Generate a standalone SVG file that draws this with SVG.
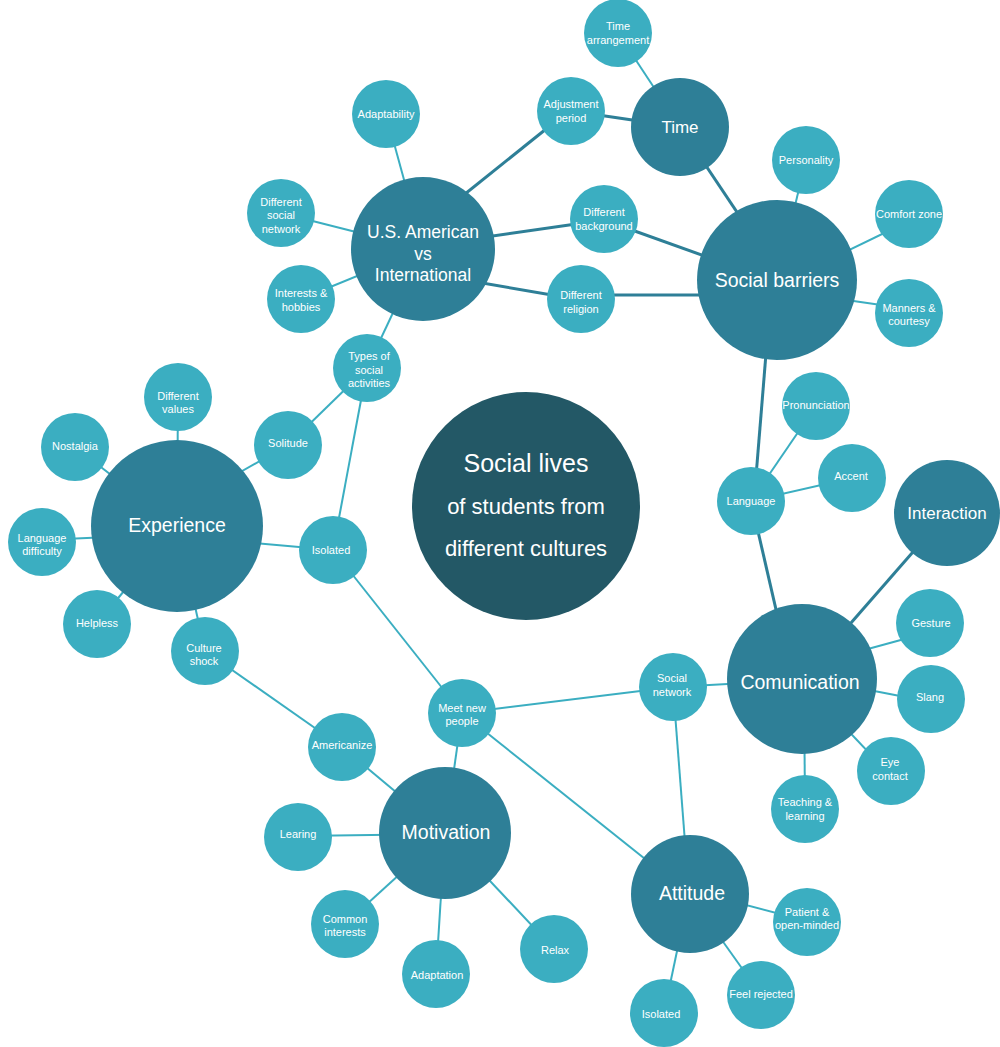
<svg xmlns="http://www.w3.org/2000/svg" width="1000" height="1047" viewBox="0 0 1000 1047">
<style>
.bg{fill:#ffffff}
.thin{stroke:#3BAEC1;stroke-width:2;fill:none}
.thick{stroke:#2E7F97;stroke-width:3;fill:none}
.s{fill:#3BAEC1}
.m{fill:#2E7F97}
.c{fill:#235866}
text{font-family:"Liberation Sans",Arial,Helvetica,sans-serif;fill:#ffffff;text-anchor:middle}
.ts{font-size:11px}
.tm{font-size:19.5px}
.tu{font-size:17.5px}
.tt{font-size:17px}
.c1{font-size:25px}
.c2{font-size:22px}
</style>
<rect class="bg" x="0" y="0" width="1000" height="1047"/>
<g id="connectors">
  <!-- thick -->
  <line class="thick" x1="450" y1="206" x2="571" y2="109"/>
  <line class="thick" x1="571" y1="111" x2="680" y2="127"/>
  <line class="thick" x1="680" y1="127" x2="777" y2="272"/>
  <line class="thick" x1="423" y1="246" x2="604" y2="220"/>
  <line class="thick" x1="604" y1="220" x2="777" y2="282"/>
  <line class="thick" x1="430" y1="274" x2="581" y2="300"/>
  <line class="thick" x1="581" y1="295" x2="740" y2="295"/>
  <line class="thick" x1="772" y1="280" x2="754" y2="501"/>
  <line class="thick" x1="751" y1="501" x2="792" y2="679"/>
  <line class="thick" x1="802" y1="679" x2="947" y2="513"/>
  <!-- thin -->
  <line class="thin" x1="618" y1="33" x2="680" y2="127"/>
  <line class="thin" x1="806" y1="160" x2="777" y2="280"/>
  <line class="thin" x1="777" y1="285" x2="909" y2="221"/>
  <line class="thin" x1="777" y1="290" x2="909" y2="309"/>
  <line class="thin" x1="386" y1="114" x2="423" y2="249"/>
  <line class="thin" x1="281" y1="213" x2="423" y2="249"/>
  <line class="thin" x1="301" y1="299" x2="423" y2="249"/>
  <line class="thin" x1="367" y1="368" x2="423" y2="249"/>
  <line class="thin" x1="288" y1="445" x2="367" y2="368"/>
  <line class="thin" x1="333" y1="550" x2="367" y2="368"/>
  <line class="thin" x1="288" y1="445" x2="200" y2="495"/>
  <line class="thin" x1="178" y1="397" x2="177" y2="526"/>
  <line class="thin" x1="75" y1="447" x2="177" y2="526"/>
  <line class="thin" x1="42" y1="540" x2="177" y2="534"/>
  <line class="thin" x1="97" y1="624" x2="177" y2="526"/>
  <line class="thin" x1="205" y1="651" x2="177" y2="526"/>
  <line class="thin" x1="177" y1="536" x2="333" y2="550"/>
  <line class="thin" x1="333" y1="550" x2="462" y2="713"/>
  <line class="thin" x1="205" y1="651" x2="342" y2="747"/>
  <line class="thin" x1="342" y1="747" x2="445" y2="833"/>
  <line class="thin" x1="462" y1="713" x2="445" y2="833"/>
  <line class="thin" x1="462" y1="713" x2="673" y2="687"/>
  <line class="thin" x1="462" y1="713" x2="689" y2="894"/>
  <line class="thin" x1="673" y1="687" x2="802" y2="680"/>
  <line class="thin" x1="673" y1="687" x2="689" y2="894"/>
  <line class="thin" x1="298" y1="836" x2="445" y2="834"/>
  <line class="thin" x1="345" y1="924" x2="445" y2="833"/>
  <line class="thin" x1="436" y1="974" x2="445" y2="833"/>
  <line class="thin" x1="554" y1="949" x2="445" y2="833"/>
  <line class="thin" x1="689" y1="890" x2="807" y2="921"/>
  <line class="thin" x1="689" y1="894" x2="761" y2="995"/>
  <line class="thin" x1="689" y1="894" x2="664" y2="1013"/>
  <line class="thin" x1="802" y1="667" x2="930" y2="632"/>
  <line class="thin" x1="802" y1="677" x2="931" y2="702"/>
  <line class="thin" x1="802" y1="682" x2="891" y2="776"/>
  <line class="thin" x1="804" y1="679" x2="805" y2="809"/>
  <line class="thin" x1="751" y1="501" x2="816" y2="406"/>
  <line class="thin" x1="751" y1="501" x2="852" y2="478"/>
</g>

<g id="center">
  <circle class="c" cx="526" cy="506" r="114"/>
  <text class="c1" x="526" y="472">Social lives</text>
  <text class="c2" x="526" y="514">of students from</text>
  <text class="c2" x="526" y="556">different cultures</text>
</g>

<g id="us-intl">
  <circle class="m" cx="423" cy="249" r="72"/>
  <text class="tu" x="423" y="238">U.S. American</text>
  <text class="tu" x="423" y="260">vs</text>
  <text class="tu" x="423" y="281">International</text>
</g>
<g id="time">
  <circle class="m" cx="680" cy="127" r="49"/>
  <text class="tt" x="680" y="133">Time</text>
</g>
<g id="social-barriers">
  <circle class="m" cx="777" cy="280" r="80"/>
  <text class="tm" x="777" y="287">Social barriers</text>
</g>
<g id="experience">
  <circle class="m" cx="177" cy="526" r="86"/>
  <text class="tm" x="177" y="532">Experience</text>
</g>
<g id="comunication">
  <circle class="m" cx="802" cy="679" r="75"/>
  <text class="tm" x="800" y="689">Comunication</text>
</g>
<g id="interaction">
  <circle class="m" cx="947" cy="513" r="53"/>
  <text class="tt" x="947" y="519">Interaction</text>
</g>
<g id="motivation">
  <circle class="m" cx="445" cy="833" r="66"/>
  <text class="tm" x="446" y="839">Motivation</text>
</g>
<g id="attitude">
  <circle class="m" cx="690" cy="894" r="59"/>
  <text class="tm" x="692" y="900">Attitude</text>
</g>

<g id="time-arrangement"><circle class="s" cx="618" cy="33" r="34"/><text class="ts" x="618" y="30">Time</text><text class="ts" x="618" y="44">arrangement</text></g>
<g id="adjustment-period"><circle class="s" cx="571" cy="111" r="34"/><text class="ts" x="571" y="108">Adjustment</text><text class="ts" x="571" y="122">period</text></g>
<g id="adaptability"><circle class="s" cx="386" cy="114" r="34"/><text class="ts" x="386" y="118">Adaptability</text></g>
<g id="different-social-network"><circle class="s" cx="281" cy="213" r="34"/><text class="ts" x="281" y="206">Different</text><text class="ts" x="281" y="219">social</text><text class="ts" x="281" y="233">network</text></g>
<g id="interests-hobbies"><circle class="s" cx="301" cy="299" r="34"/><text class="ts" x="301" y="297">Interests &amp;</text><text class="ts" x="301" y="311">hobbies</text></g>
<g id="different-background"><circle class="s" cx="604" cy="219" r="34"/><text class="ts" x="604" y="216">Different</text><text class="ts" x="604" y="230">background</text></g>
<g id="different-religion"><circle class="s" cx="581" cy="299" r="34"/><text class="ts" x="581" y="299">Different</text><text class="ts" x="581" y="313">religion</text></g>
<g id="personality"><circle class="s" cx="806" cy="160" r="34"/><text class="ts" x="806" y="164">Personality</text></g>
<g id="comfort-zone"><circle class="s" cx="909" cy="214" r="34"/><text class="ts" x="909" y="218">Comfort zone</text></g>
<g id="manners-courtesy"><circle class="s" cx="909" cy="313" r="34"/><text class="ts" x="909" y="312">Manners &amp;</text><text class="ts" x="909" y="325">courtesy</text></g>
<g id="types-social-activities"><circle class="s" cx="367" cy="368" r="34"/><text class="ts" x="369" y="360">Types of</text><text class="ts" x="369" y="374">social</text><text class="ts" x="369" y="387">activities</text></g>
<g id="different-values"><circle class="s" cx="178" cy="397" r="34"/><text class="ts" x="178" y="400">Different</text><text class="ts" x="178" y="413">values</text></g>
<g id="nostalgia"><circle class="s" cx="75" cy="447" r="34"/><text class="ts" x="75" y="450">Nostalgia</text></g>
<g id="solitude"><circle class="s" cx="288" cy="445" r="34"/><text class="ts" x="288" y="447">Solitude</text></g>
<g id="language-difficulty"><circle class="s" cx="42" cy="542" r="34"/><text class="ts" x="42" y="542">Language</text><text class="ts" x="42" y="555">difficulty</text></g>
<g id="isolated-1"><circle class="s" cx="333" cy="550" r="34"/><text class="ts" x="331" y="554">Isolated</text></g>
<g id="helpless"><circle class="s" cx="97" cy="624" r="34"/><text class="ts" x="97" y="627">Helpless</text></g>
<g id="culture-shock"><circle class="s" cx="205" cy="651" r="34"/><text class="ts" x="204" y="652">Culture</text><text class="ts" x="204" y="665">shock</text></g>
<g id="pronunciation"><circle class="s" cx="816" cy="406" r="34"/><text class="ts" x="816" y="409">Pronunciation</text></g>
<g id="accent"><circle class="s" cx="852" cy="478" r="34"/><text class="ts" x="851" y="480">Accent</text></g>
<g id="language"><circle class="s" cx="751" cy="501" r="34"/><text class="ts" x="751" y="505">Language</text></g>
<g id="gesture"><circle class="s" cx="930" cy="623" r="34"/><text class="ts" x="931" y="627">Gesture</text></g>
<g id="slang"><circle class="s" cx="931" cy="699" r="34"/><text class="ts" x="930" y="701">Slang</text></g>
<g id="eye-contact"><circle class="s" cx="891" cy="771" r="34"/><text class="ts" x="890" y="766">Eye</text><text class="ts" x="890" y="780">contact</text></g>
<g id="teaching-learning"><circle class="s" cx="805" cy="809" r="34"/><text class="ts" x="805" y="806">Teaching &amp;</text><text class="ts" x="805" y="820">learning</text></g>
<g id="social-network"><circle class="s" cx="673" cy="687" r="34"/><text class="ts" x="672" y="682">Social</text><text class="ts" x="672" y="696">network</text></g>
<g id="meet-new-people"><circle class="s" cx="462" cy="713" r="34"/><text class="ts" x="462" y="712">Meet new</text><text class="ts" x="462" y="725">people</text></g>
<g id="americanize"><circle class="s" cx="342" cy="747" r="34"/><text class="ts" x="342" y="749">Americanize</text></g>
<g id="learing"><circle class="s" cx="298" cy="837" r="34"/><text class="ts" x="298" y="838">Learing</text></g>
<g id="common-interests"><circle class="s" cx="345" cy="924" r="34"/><text class="ts" x="345" y="923">Common</text><text class="ts" x="345" y="936">interests</text></g>
<g id="adaptation"><circle class="s" cx="436" cy="974" r="34"/><text class="ts" x="437" y="979">Adaptation</text></g>
<g id="relax"><circle class="s" cx="554" cy="949" r="34"/><text class="ts" x="555" y="954">Relax</text></g>
<g id="patient-open-minded"><circle class="s" cx="807" cy="922" r="34"/><text class="ts" x="807" y="916">Patient &amp;</text><text class="ts" x="807" y="929">open-minded</text></g>
<g id="feel-rejected"><circle class="s" cx="761" cy="995" r="34"/><text class="ts" x="761" y="998">Feel rejected</text></g>
<g id="isolated-2"><circle class="s" cx="664" cy="1013" r="34"/><text class="ts" x="661" y="1018">Isolated</text></g>
</svg>
